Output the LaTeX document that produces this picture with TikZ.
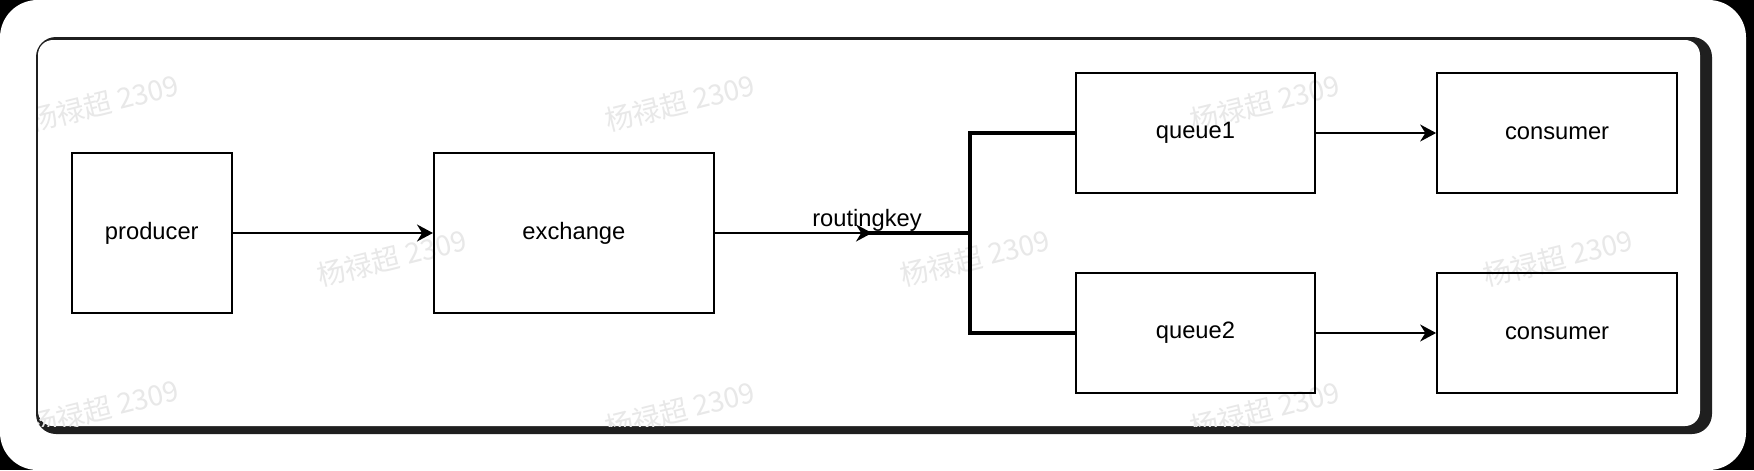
\documentclass[tikz,border=0pt]{standalone}
\usepackage{fontspec}
\setmainfont{Liberation Sans}
\newfontfamily\cjk{Noto Sans CJK SC}
\usepackage{tikz}
\usetikzlibrary{positioning, arrows.meta}
\tikzstyle{box} = [rectangle, draw=black, line width=1.1pt, text centered, inner sep=0pt, font=\fontsize{13.5}{16}\selectfont]
\tikzstyle{arrow} = [line width=1.1pt,-{Stealth[length=0.32cm, width=0.34cm]}]
\tikzstyle{branch} = [line width=2.4pt]
\tikzstyle{wm} = [rotate=14, text=black!9, font=\cjk\fontsize{16}{18}\selectfont]

\begin{document}
\begin{tikzpicture}[x=0.02cm, y=-0.02cm, node distance=4cm]
% screenshot frame
\fill[black] (0,0) rectangle (1754,470);
\fill[white, rounded corners=0.75cm] (0,0) rectangle (1746,470);
\fill[black!88, rounded corners=0.4cm] (36,37) rectangle (1712,434);
\fill[white, rounded corners=0.3cm] (38,40) rectangle (1700,426);

% watermark
\begin{scope}
\clip (38,40) rectangle (1700,426);
\foreach \x/\y in {104/103, 680/103, 1265/103, 392/258, 975/258, 1558/258, 104/408, 680/410, 1265/410}
  \node (wm\x) [wm] at (\x,\y) {杨禄超 2309};
\end{scope}

\node (producer) [box, minimum width=3.21cm, minimum height=3.21cm] at (151.8,233) {producer};
\node (exchange) [box, minimum width=5.6cm, minimum height=3.21cm, right=4cm of producer] {exchange};
\node (queue1) [box, minimum width=4.79cm, minimum height=2.4cm, right=7.2cm of exchange, yshift=2cm] {queue1};
\node (queue2) [box, minimum width=4.79cm, minimum height=2.4cm, right=7.2cm of exchange, yshift=-2cm] {queue2};
\node (consumer1) [box, minimum width=4.8cm, minimum height=2.4cm, right=2.4cm of queue1] {consumer};
\node (consumer2) [box, minimum width=4.8cm, minimum height=2.4cm, right=2.4cm of queue2] {consumer};

\coordinate (rk) at (872,233);
\coordinate (fork) at (970,233);

\draw [arrow] (producer) -- (exchange);
\draw [arrow] (exchange) -- (rk);
\node (rklabel) [anchor=base, font=\fontsize{13.5}{16}\selectfont] at (867,226) {routingkey};
\draw [branch] ([xshift=-0.1cm]rk) -- (fork);
\draw [branch] (queue1.west) -| (fork) |- (queue2.west);
\draw [arrow] (queue1) -- (consumer1);
\draw [arrow] (queue2) -- (consumer2);
\end{tikzpicture}
\end{document}
